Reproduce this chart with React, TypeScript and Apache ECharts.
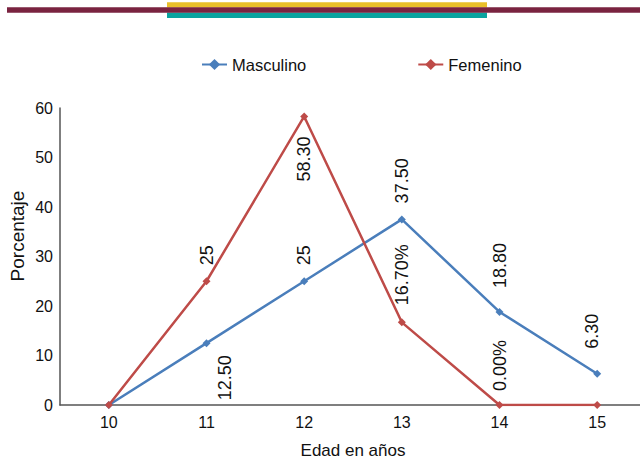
import React, { useEffect, useRef } from "react";
import * as echarts from "echarts";

// Age groups (x axis) and percentage per group
const ages = ["10", "11", "12", "13", "14", "15"];
const masculino = [0, 12.5, 25, 37.5, 18.8, 6.3];
const femenino = [0, 25, 58.3, 16.7, 0, 0];

// Text shown next to each point ("" = no label)
const masculinoLabels = ["", "12.50", "25", "37.50", "18.80", "6.30"];
const femeninoLabels = ["", "25", "58.30", "16.70%", "0.00%", ""];

const yTicks = { min: 0, max: 60, interval: 10 };

const FONT = "Liberation Sans, Arial, Helvetica, sans-serif";
const BLUE = "#4A7EBB";
const RED = "#BE4B48";

type Place = { below?: boolean; gap?: number; dx?: number };

// Label placement per point: vertical text above (or below) the marker.
// The label is rotated 90°, so a horizontal shift goes into the offset's second slot.
function buildData(values: number[], texts: string[], places: Record<number, Place>) {
  return values.map((v, i) => {
    const text = texts[i];
    if (!text) return { value: v, label: { show: false } };
    const p = places[i] || {};
    const below = !!p.below;
    return {
      value: v,
      label: {
        show: true,
        formatter: text,
        position: below ? "bottom" : "top",
        distance: p.gap ?? 12,
        rotate: 90,
        align: below ? "right" : "left",
        verticalAlign: "middle",
        offset: [0, p.dx ?? 0],
        color: "#111",
        fontSize: 18,
        fontFamily: FONT,
      },
    };
  });
}

export default function App() {
  const ref = useRef<HTMLDivElement>(null);

  useEffect(() => {
    if (!ref.current) return;
    const chart = echarts.init(ref.current, null, { renderer: "svg" });

    const mascData = buildData(masculino, masculinoLabels, {
      1: { below: true, gap: 8, dx: 18 },
      3: { gap: 12 },
      4: { gap: 20 },
      5: { gap: 21, dx: -5 },
    });
    const femData = buildData(femenino, femeninoLabels, {
      1: { gap: 12 },
      2: { below: true, gap: 16 },
      3: { gap: 13 },
      4: { gap: 10 },
    });

    chart.setOption({
      animation: false,
      backgroundColor: "#ffffff",
      textStyle: { fontFamily: FONT },
      graphic: [
        { type: "rect", shape: { x: 167, y: 2.3, width: 320, height: 5.2 }, style: { fill: "#E9BF2A" } },
        { type: "rect", shape: { x: 167, y: 12.5, width: 320, height: 5.5 }, style: { fill: "#0AA39F" } },
        { type: "rect", shape: { x: 7, y: 7.3, width: 640, height: 5.4 }, style: { fill: "#7A2340" } },
        {
          type: "text",
          x: 17,
          y: 236,
          rotation: Math.PI / 2,
          style: {
            text: "Porcentaje",
            font: `19px ${FONT}`,
            fill: "#111",
            textAlign: "center",
            textVerticalAlign: "middle",
          },
        },
      ],
      legend: {
        left: 196,
        top: 51,
        itemWidth: 25,
        itemHeight: 14,
        itemGap: 111,
        textStyle: { fontSize: 16.5, color: "#111", fontFamily: FONT },
        data: ["Masculino", "Femenino"],
      },
      grid: { left: 60, right: 0, top: 108, bottom: 60, containLabel: false },
      xAxis: {
        type: "category",
        data: ages,
        boundaryGap: true,
        name: "Edad en años",
        nameLocation: "middle",
        nameGap: 37,
        nameTextStyle: { fontSize: 17, color: "#111", fontFamily: FONT },
        axisLine: { lineStyle: { color: "#555", width: 1.5 } },
        axisTick: { show: false },
        axisLabel: { fontSize: 16, color: "#111", margin: 9, fontFamily: FONT },
      },
      yAxis: {
        type: "value",
        min: yTicks.min,
        max: yTicks.max,
        interval: yTicks.interval,
        axisLine: { show: true, lineStyle: { color: "#555", width: 1.5 } },
        axisTick: { show: false },
        splitLine: { show: false },
        axisLabel: { fontSize: 16, color: "#111", margin: 7, fontFamily: FONT },
      },
      series: [
        {
          name: "Masculino",
          type: "line",
          data: mascData,
          symbol: "diamond",
          symbolSize: 8,
          color: BLUE,
          lineStyle: { color: BLUE, width: 2.5 },
          itemStyle: { color: BLUE },
          z: 2,
        },
        {
          name: "Femenino",
          type: "line",
          data: femData,
          symbol: "diamond",
          symbolSize: 8,
          color: RED,
          lineStyle: { color: RED, width: 2.5 },
          itemStyle: { color: RED },
          z: 3,
        },
      ],
    });

    return () => chart.dispose();
  }, []);

  // The plot's right edge runs a few pixels past the visible area, so the
  // chart is slightly wider than its clipping frame.
  return (
    <div
      style={{ position: "absolute", left: 0, top: 0, width: 640, height: 465, overflow: "hidden" }}
    >
      <div ref={ref} style={{ width: 646, height: 465 }} />
    </div>
  );
}
